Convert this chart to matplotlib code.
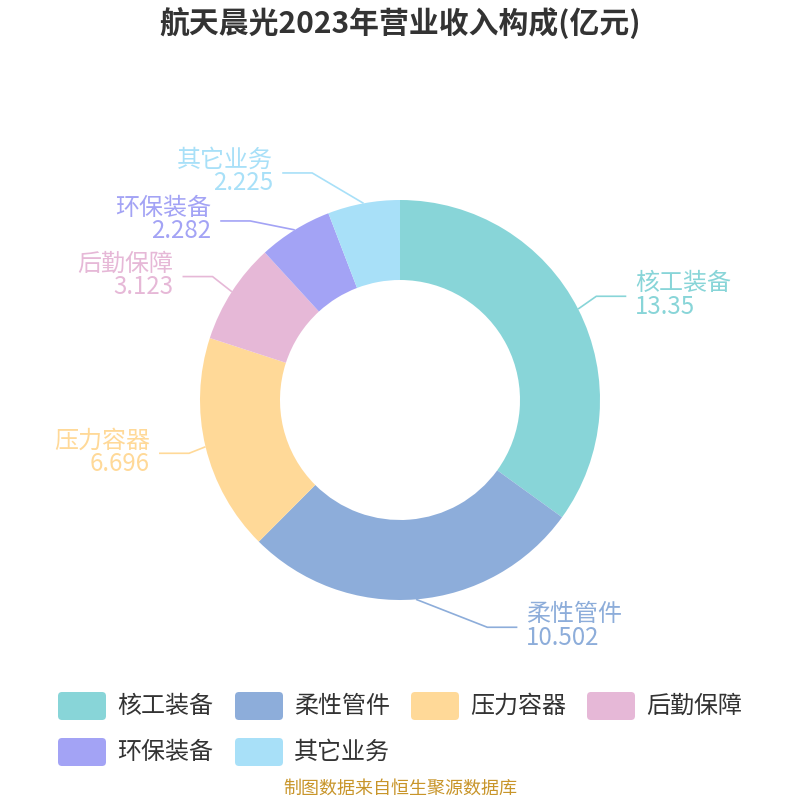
import matplotlib
matplotlib.use("Agg")
import matplotlib.pyplot as plt
from matplotlib.patches import FancyBboxPatch
import numpy as np

plt.rcParams['font.family'] = ['Noto Sans CJK SC', 'DejaVu Sans']

title = "航天晨光2023年营业收入构成(亿元)"
categories = ["核工装备", "柔性管件", "压力容器", "后勤保障", "环保装备", "其它业务"]
values = [13.35, 10.502, 6.696, 3.123, 2.282, 2.225]
value_labels = ["13.35", "10.502", "6.696", "3.123", "2.282", "2.225"]
colors = ["#88D5D8", "#8DADDA", "#FFD998", "#E6B8D7", "#A3A3F5", "#A8E0F8"]
source = "制图数据来自恒生聚源数据库"

W = H = 800
fig = plt.figure(figsize=(8, 8), dpi=100)
ax = fig.add_axes([0, 0, 1, 1])
ax.set_xlim(0, W)
ax.set_ylim(0, H)
ax.set_aspect('equal')
ax.axis('off')

def Y(y):
    return H - y

cx, cy = 400, 400
R_OUT, R_IN = 200, 120
wedges, _ = ax.pie(values, colors=colors, startangle=90, counterclock=False,
                   center=(cx, Y(cy)), radius=R_OUT,
                   wedgeprops=dict(width=R_OUT - R_IN, edgecolor='none'))
ax.set_xlim(0, W)
ax.set_ylim(0, H)

# label layout
R_NAT = 228
A_ELL, B_ELL = 216, 248.5
labels = []
for i, w in enumerate(wedges):
    mid = np.deg2rad((w.theta1 + w.theta2) / 2)
    ex, ey = cx + R_OUT * np.cos(mid), cy - R_OUT * np.sin(mid)  # pixel coords
    side = 1 if np.cos(mid) >= 0 else -1
    ny = cy - R_NAT * np.sin(mid)
    labels.append(dict(i=i, ex=ex, ey=ey, side=side, y=ny, moved=False))

GAP = 48
for side in (1, -1):
    grp = sorted([l for l in labels if l['side'] == side], key=lambda l: l['y'])
    for _ in range(50):
        moved = False
        for a, b in zip(grp[:-1], grp[1:]):
            d = b['y'] - a['y']
            if d < GAP:
                s = (GAP - d) / 2
                a['y'] -= s
                b['y'] += s
                a['moved'] = b['moved'] = True
                moved = True
        if not moved:
            break

for l in labels:
    if l['moved']:
        l['y'] += 6

FS = 17.3
for l in labels:
    i = l['i']
    dy = l['y'] - cy
    frac = max(0.0, 1 - (dy / B_ELL) ** 2)
    bx = cx + l['side'] * A_ELL * np.sqrt(frac)
    by = l['y']
    hx = bx + l['side'] * 30
    ax.plot([l['ex'], bx, hx], [Y(l['ey']), Y(by), Y(by)], color=colors[i],
            lw=1.2, solid_capstyle='butt', zorder=3)
    tx = hx + l['side'] * 9
    ha = 'left' if l['side'] > 0 else 'right'
    ax.text(tx, Y(by - 13), categories[i], ha=ha, va='center', fontsize=FS,
            color=colors[i])
    ax.text(tx, Y(by + 10.5), value_labels[i], ha=ha, va='center', fontsize=FS,
            color=colors[i])

# title
ax.text(400, Y(22), title, ha='center', va='center', fontsize=21.5,
        fontweight='bold', color='#333333')

# legend
leg_x = [58, 235, 411, 587, 58, 235]
leg_y = [706, 706, 706, 706, 752, 752]
for i, cat in enumerate(categories):
    bx, by = leg_x[i], leg_y[i]
    box = FancyBboxPatch((bx + 4, Y(by + 14) + 4), 48 - 8, 28 - 8,
                         boxstyle="round,pad=4", facecolor=colors[i],
                         edgecolor='none')
    ax.add_patch(box)
    ax.text(bx + 59, Y(by), cat, ha='left', va='center', fontsize=FS,
            color='#333333')

ax.text(400, Y(789), source, ha='center', va='center', fontsize=13,
        color='#C8952A')

fig.savefig("out.png", dpi=100)
